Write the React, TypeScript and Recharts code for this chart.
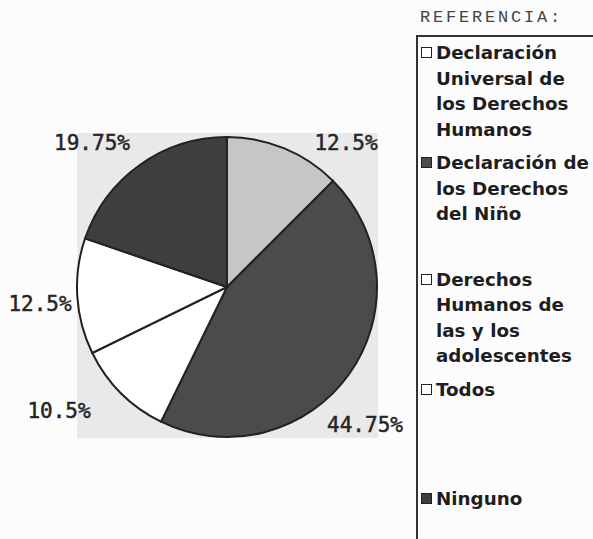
import { PieChart, Pie, Cell, Legend } from "recharts";

const categories = [
  "Declaración\nUniversal de\nlos Derechos\nHumanos",
  "Declaración de\nlos Derechos\ndel Niño",
  "Derechos\nHumanos de\nlas y los\nadolescentes",
  "Todos",
  "Ninguno",
];
const percents = [12.5, 44.75, 10.5, 12.5, 19.75];
const percentLabels = ["12.5%", "44.75%", "10.5%", "12.5%", "19.75%"];

const sliceFills = ["#c6c6c6", "#4b4b4b", "#ffffff", "#ffffff", "#3e3e3e"];
const swatchFills = ["#ffffff", "#4b4b4b", "#ffffff", "#ffffff", "#3e3e3e"];
// where each percentage sits, relative to the pie centre
const labelOffsets = [
  [119, -144],
  [138, 138],
  [-168, 124],
  [-187, 17],
  [-135, -144],
];
// space below each legend entry
const legendGaps = [8, 40, 8, 84, 0];

const data = categories.map((name, i) => ({ name, value: percents[i] }));

const W = 593;
const H = 539;
const CX = 227;
const CY = 287;

function renderLabel(props: any) {
  const { cx, cy, index } = props;
  const [dx, dy] = labelOffsets[index];
  return (
    <text
      x={cx + dx}
      y={cy + dy}
      textAnchor="middle"
      dominantBaseline="central"
      fill="#262626"
      stroke="#262626"
      strokeWidth={0.5}
      fontFamily="'DejaVu Sans Mono', monospace"
      fontSize={21}
    >
      {percentLabels[index]}
    </text>
  );
}

function renderLegend() {
  return (
    <div style={{ fontFamily: "'DejaVu Sans', sans-serif", fontWeight: 700, fontSize: 18.3, color: "#1e1e1e" }}>
      {categories.map((name, i) => (
        <div key={i} style={{ display: "flex", alignItems: "flex-start", marginBottom: legendGaps[i] }}>
          <span
            style={{
              width: 9,
              height: 9,
              marginTop: 7,
              marginRight: 4,
              flex: "none",
              background: swatchFills[i],
              border: "1.5px solid #222",
            }}
          />
          <div style={{ lineHeight: "25.5px", whiteSpace: "pre" }}>{name}</div>
        </div>
      ))}
    </div>
  );
}

export default function App() {
  return (
    <div style={{ position: "relative", width: W, height: H, background: "#fcfcfc", overflow: "hidden" }}>
      <style>{`body{margin:0}`}</style>
      {/* shaded plot area behind the pie */}
      <div style={{ position: "absolute", left: 77, top: 133, width: 301, height: 305, background: "#e9e9e9" }} />
      {/* legend frame */}
      <div
        style={{
          position: "absolute",
          left: 416,
          top: 35,
          width: W,
          height: H,
          borderLeft: "2px solid #333",
          borderTop: "2px solid #333",
        }}
      />
      <div
        style={{
          position: "absolute",
          left: 420,
          top: 8,
          fontFamily: "'Liberation Mono', monospace",
          fontSize: 17,
          letterSpacing: 2.8,
          color: "#444",
        }}
      >
        REFERENCIA:
      </div>
      <PieChart
        width={W}
        height={H}
        margin={{ top: 0, right: 0, bottom: 0, left: 0 }}
        style={{ position: "absolute", left: 0, top: 0 }}
      >
        <Pie
          data={data}
          dataKey="value"
          nameKey="name"
          cx={CX}
          cy={CY}
          outerRadius={150}
          startAngle={90}
          endAngle={-270}
          stroke="#222"
          strokeWidth={2}
          label={renderLabel}
          labelLine={false}
          isAnimationActive={false}
        >
          {data.map((d, i) => (
            <Cell key={d.name} fill={sliceFills[i]} />
          ))}
        </Pie>
        <Legend
          layout="vertical"
          content={renderLegend}
          wrapperStyle={{ position: "absolute", left: 421, top: 40, width: 175 }}
        />
      </PieChart>
    </div>
  );
}
